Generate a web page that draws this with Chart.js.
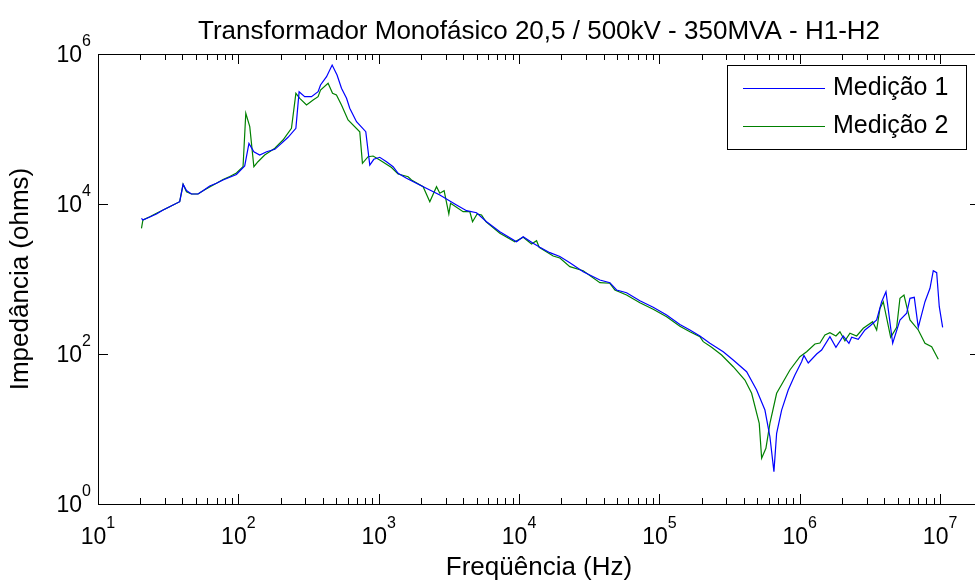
<!DOCTYPE html>
<html>
<head>
<meta charset="utf-8">
<script src="https://cdn.jsdelivr.net/npm/chart.js@4.4.1/dist/chart.umd.min.js"></script>
<style>
  html, body { margin: 0; padding: 0; background: #fff; overflow: hidden; }
  canvas { display: block; }
</style>
</head>
<body>
<canvas id="fra" width="985" height="583"></canvas>
<script>
// Medição 1 (blue)
var freq1 = [20.4, 20.9, 23.4, 26.1, 29.1, 32.4, 38.2, 40.4, 42.7, 46.3,
  51.6, 56, 62.5, 69.8, 77.8, 86.9, 96.9, 111, 119, 129,
  142, 159, 182, 203, 226, 257, 271, 297, 332, 370,
  385, 425, 466, 505, 543, 590, 622, 695, 809, 864,
  923, 1018, 1137, 1267, 1375, 1578, 1963, 2726, 3585, 4225,
  4979, 5868, 7300, 9600, 10700, 12600, 14070, 16580, 19540, 23020,
  28640, 37670, 44390, 49540, 58380, 72610, 90330, 112600, 140000, 165000,
  194400, 229100, 285000, 335700, 418300, 493000, 564900, 613100, 654800, 684500,
  743000, 828000, 924000, 1031000, 1071000, 1150000, 1320000, 1432000, 1641000, 1811000,
  2042000, 2242000, 2344000, 2612000, 2915000, 3164000, 3533000, 3835000, 4116000, 4594000,
  5177000, 5781000, 6101000, 6548000, 6992000, 7806000, 8474000, 8944000, 9458000, 9870000,
  10430000];
var imp1 = [6440, 6120, 6710, 7360, 8320, 9200, 10730, 18320, 15140, 13590,
  13590, 15040, 17380, 18880, 20890, 22700, 24720, 32130, 64420, 49800,
  44980, 49800, 53580, 64420, 77500, 102100, 314100, 269800, 269800, 314100,
  386000, 498000, 713000, 525000, 349000, 256600, 188800, 125000, 92000, 33100,
  39450, 41960, 36640, 31410, 25650, 22020, 17920, 13180, 9700, 8140,
  7650, 5808, 4273, 3143, 3664, 2992, 2648, 2244, 1995, 1648,
  1250, 970, 893, 713, 656, 514, 420, 331, 247, 209,
  174, 139, 107.4, 83.2, 58.1, 33.1, 17.9, 7.89, 2.7, 8.77,
  17.9, 33.1, 52.5, 78.9, 95.5, 75.9, 100, 113, 170, 123,
  174, 139, 167, 157, 209, 236, 284, 498, 677, 139,
  284, 349, 553, 570, 227, 498, 751, 1291, 1213, 427,
  227];

// Medição 2 (green)
var freq2 = [20.4, 20.9, 23.4, 26.1, 29.1, 32.4, 38.2, 40.4, 42.7, 46.3,
  51.6, 56, 62.5, 69.8, 77.8, 86.9, 96.9, 108, 113, 120.6,
  129, 138, 154, 182, 208, 239, 257, 274, 306, 341,
  370, 385, 436, 469, 500, 543, 605, 733, 766, 840,
  912, 1018, 1234, 1375, 1620, 1713, 2073, 2313, 2582, 2726,
  2925, 3160, 3250, 3996, 4461, 4663, 5028, 5403, 5800, 7300,
  9336, 10700, 12280, 13330, 13910, 17510, 19540, 23020, 28640, 37670,
  44390, 48180, 58380, 72610, 90330, 112600, 140000, 165000, 194400, 205200,
  235600, 277600, 335700, 406800, 454200, 514600, 535300, 574100, 613100, 684500,
  762700, 851400, 1003000, 1120000, 1283000, 1393000, 1512000, 1641000, 1811000, 1934000,
  2099000, 2279000, 2544000, 2836000, 3308000, 3533000, 3730000, 3937000, 4446000, 4906000,
  5177000, 5530000, 6101000, 6992000, 7806000, 8710000, 9710000];
var imp2 = [4743, 6120, 6770, 7516, 8318, 9204, 10730, 18320, 14590, 13590,
  13590, 15040, 16860, 18880, 21210, 23270, 25880, 31410, 161900, 107400,
  31410, 36640, 44980, 55300, 71290, 102100, 299200, 256600, 208900, 243600,
  269800, 331100, 406400, 299200, 283800, 208900, 131800, 92000, 34910, 42720,
  43650, 38610, 30670, 25120, 23120, 20890, 17010, 10730, 17010, 13900,
  15040, 7360, 10210, 7890, 7890, 5808, 7360, 7130, 5808, 4066,
  3143, 3597, 2931, 3244, 2648, 2028, 1905, 1459, 1291, 893,
  877, 713, 612, 483, 394, 314, 234, 198, 170, 146,
  123, 97, 67.7, 45, 29.9, 11.9, 4.07, 5.53, 11.9, 29.9,
  42.7, 61.2, 92, 107, 136, 140, 179, 192, 174, 198,
  150, 189, 174, 220, 270, 209, 406, 498, 167, 227,
  553, 612, 284, 209, 139, 125, 85];

var seriesNames = ['Medição 1', 'Medição 2'];
var xDecades = [10, 100, 1000, 10000, 100000, 1000000, 10000000];
var yDecades = [1, 100, 10000, 1000000];

var FONT = '"Liberation Sans", Arial, Helvetica, sans-serif';

function toPoints(f, z) {
  return f.map(function(v, i) { return { x: v, y: z[i] }; });
}

// x axis gets minor ticks 2..9 inside each decade
var xTicks = [];
xDecades.forEach(function(d, i) {
  xTicks.push({ value: d, major: true });
  if (i < xDecades.length - 1) {
    for (var k = 2; k <= 9; k++) xTicks.push({ value: d * k, major: false });
  }
});
var yTicks = yDecades.map(function(d) { return { value: d, major: true }; });

function drawPow(ctx, exp, x, y, align) {
  ctx.font = '23px ' + FONT;
  var wb = ctx.measureText('10').width;
  ctx.font = '16px ' + FONT;
  var we = ctx.measureText(String(exp)).width;
  var x0 = align === 'center' ? x - (wb + we) / 2 : x - (wb + we);
  ctx.textAlign = 'left';
  ctx.textBaseline = 'alphabetic';
  ctx.font = '23px ' + FONT;
  ctx.fillText('10', x0, y);
  ctx.font = '16px ' + FONT;
  ctx.fillText(String(exp), x0 + wb, y - 16);
}

var matlabAxes = {
  id: 'matlabAxes',
  afterDraw: function(chart) {
    var ctx = chart.ctx, a = chart.chartArea;
    var sx = chart.scales.x, sy = chart.scales.y;
    ctx.save();
    ctx.strokeStyle = '#000';
    ctx.fillStyle = '#000';
    ctx.lineWidth = 1;

    // inward ticks on all four sides
    ctx.beginPath();
    sx.ticks.forEach(function(t) {
      var px = Math.round(sx.getPixelForValue(t.value)) + 0.5;
      var len = t.major ? 10 : 6;
      ctx.moveTo(px, a.bottom); ctx.lineTo(px, a.bottom - len);
      ctx.moveTo(px, a.top); ctx.lineTo(px, a.top + len);
    });
    sy.ticks.forEach(function(t) {
      var py = Math.round(sy.getPixelForValue(t.value)) + 0.5;
      ctx.moveTo(a.left, py); ctx.lineTo(a.left + 10, py);
      ctx.moveTo(a.right, py); ctx.lineTo(a.right - 10, py);
    });
    ctx.stroke();
    ctx.strokeRect(a.left + 0.5, a.top + 0.5, a.right - a.left - 1, a.bottom - a.top);

    // tick labels 10^n
    sx.ticks.forEach(function(t) {
      if (!t.major) return;
      drawPow(ctx, Math.round(Math.log10(t.value)), sx.getPixelForValue(t.value), a.bottom + 40, 'center');
    });
    sy.ticks.forEach(function(t) {
      drawPow(ctx, Math.round(Math.log10(t.value)), a.left - 7, sy.getPixelForValue(t.value) + 8, 'right');
    });

    // legend box
    var lx = a.right - 253, ly = a.top + 11, lw = 239, lh = 84;
    ctx.fillStyle = '#fff';
    ctx.fillRect(lx, ly, lw, lh);
    ctx.strokeStyle = '#000';
    ctx.strokeRect(lx + 0.5, ly + 0.5, lw, lh);
    chart.data.datasets.forEach(function(ds, i) {
      var yy = ly + 23 + i * 38 + 0.5;
      ctx.strokeStyle = ds.borderColor;
      ctx.lineWidth = ds.borderWidth;
      ctx.beginPath();
      ctx.moveTo(lx + 16, yy); ctx.lineTo(lx + 98, yy);
      ctx.stroke();
      ctx.fillStyle = '#000';
      ctx.font = '25px ' + FONT;
      ctx.textAlign = 'left';
      ctx.textBaseline = 'middle';
      ctx.fillText(ds.label, lx + 106, yy);
    });
    ctx.restore();
  }
};

new Chart(document.getElementById('fra'), {
  type: 'line',
  data: {
    datasets: [{
      label: seriesNames[0],
      data: toPoints(freq1, imp1),
      borderColor: '#0000ff',
      borderWidth: 1.2,
      pointRadius: 0,
      tension: 0,
      fill: false
    }, {
      label: seriesNames[1],
      data: toPoints(freq2, imp2),
      borderColor: '#008000',
      borderWidth: 1.2,
      pointRadius: 0,
      tension: 0,
      fill: false
    }]
  },
  options: {
    responsive: false,
    animation: false,
    devicePixelRatio: 1,
    layout: { padding: { left: 0, right: 5, top: 0, bottom: 0 } },
    plugins: {
      legend: { display: false },
      tooltip: { enabled: false },
      title: {
        display: true,
        fullSize: false,
        text: 'Transformador Monofásico 20,5 / 500kV - 350MVA - H1-H2',
        color: '#000',
        font: { family: FONT, size: 26, weight: 'normal' },
        padding: { top: 16, bottom: 6.8 }
      }
    },
    scales: {
      x: {
        type: 'logarithmic',
        min: 10,
        max: 1.925e7,
        grid: { display: false },
        border: { display: false },
        ticks: { display: false },
        title: {
          display: true,
          text: 'Freqüência (Hz)',
          color: '#000',
          font: { family: FONT, size: 26 },
          padding: { top: 0, bottom: 0 }
        },
        afterBuildTicks: function(s) { s.ticks = xTicks.slice(); },
        afterFit: function(s) { s.height = 79; }
      },
      y: {
        type: 'logarithmic',
        min: 1,
        max: 1e6,
        grid: { display: false },
        border: { display: false },
        ticks: { display: false },
        title: {
          display: true,
          text: 'Impedância (ohms)',
          color: '#000',
          font: { family: FONT, size: 26 },
          padding: { top: 5, bottom: 0 }
        },
        afterBuildTicks: function(s) { s.ticks = yTicks.slice(); },
        afterFit: function(s) { s.width = 98; }
      }
    }
  },
  plugins: [matlabAxes]
});
</script>
</body>
</html>
